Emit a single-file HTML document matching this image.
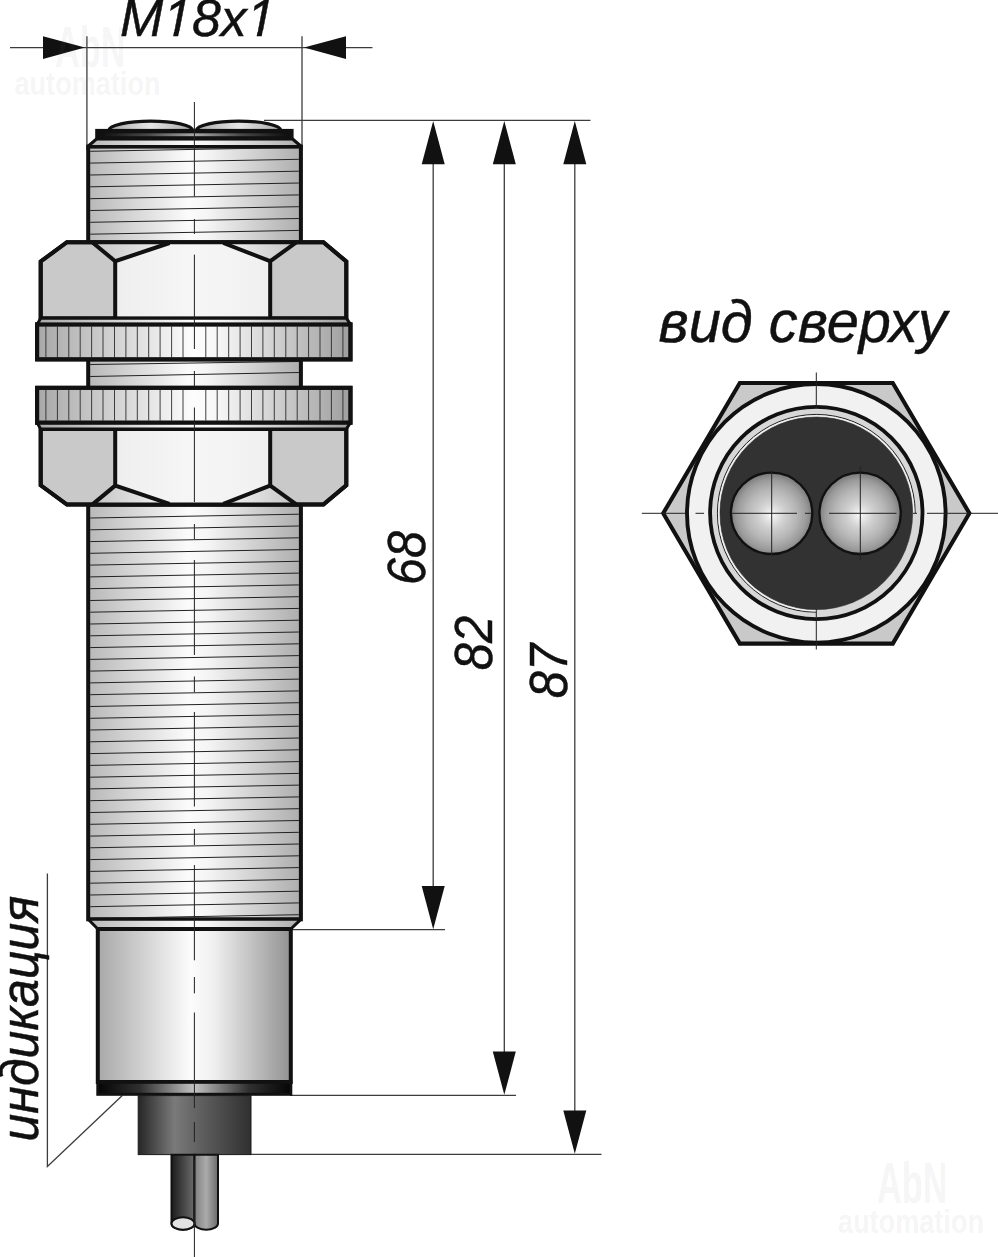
<!DOCTYPE html>
<html lang="ru">
<head>
<meta charset="utf-8">
<title>M18x1</title>
<style>
html,body{margin:0;padding:0;background:#fff;}
body{width:998px;height:1257px;overflow:hidden;position:relative;font-family:"Liberation Sans",sans-serif;}
svg{position:absolute;left:0;top:0;display:block;}
text{font-family:"Liberation Sans",sans-serif;}
.it{font-style:italic;fill:#111;stroke:#111;stroke-width:0.45;}
.wm{font-weight:bold;fill:#7a7a7a;fill-opacity:0.085;}
.thin{stroke:#3c3c3c;stroke-width:1.3;fill:none;}
.cl{stroke:#222;stroke-width:1;fill:none;}
.thk{stroke:#111;stroke-width:4;stroke-linejoin:miter;}
.thr{stroke:#222;stroke-width:1;fill:none;}
.arr{fill:#111;stroke:none;}
</style>
</head>
<body>
<svg width="998" height="1257" viewBox="0 0 998 1257">
<defs>
<linearGradient id="gBody" x1="0" y1="0" x2="1" y2="0">
<stop offset="0" stop-color="#b8b8b8"/><stop offset="0.47" stop-color="#fbfbfb"/><stop offset="0.56" stop-color="#f5f5f5"/><stop offset="1" stop-color="#adadad"/>
</linearGradient>
<linearGradient id="gWash" x1="0" y1="0" x2="1" y2="0">
<stop offset="0" stop-color="#a8a8a8"/><stop offset="0.5" stop-color="#fdfdfd"/><stop offset="0.58" stop-color="#f6f6f6"/><stop offset="1" stop-color="#9e9e9e"/>
</linearGradient>
<linearGradient id="gSmooth" x1="0" y1="0" x2="1" y2="0">
<stop offset="0" stop-color="#a8a8a8"/><stop offset="0.48" stop-color="#fcfcfc"/><stop offset="0.6" stop-color="#f0f0f0"/><stop offset="1" stop-color="#929292"/>
</linearGradient>
<linearGradient id="gRing" x1="0" y1="0" x2="1" y2="0">
<stop offset="0" stop-color="#050505"/><stop offset="0.22" stop-color="#303030"/><stop offset="0.5" stop-color="#c2c2c2"/><stop offset="0.78" stop-color="#303030"/><stop offset="1" stop-color="#050505"/>
</linearGradient>
<linearGradient id="gRingTop" x1="0" y1="0" x2="1" y2="0">
<stop offset="0" stop-color="#111"/><stop offset="0.25" stop-color="#4a4a4a"/><stop offset="0.5" stop-color="#a8a8a8"/><stop offset="0.75" stop-color="#4a4a4a"/><stop offset="1" stop-color="#111"/>
</linearGradient>
<linearGradient id="gGland" x1="0" y1="0" x2="1" y2="0">
<stop offset="0" stop-color="#262626"/><stop offset="0.32" stop-color="#7a7a7a"/><stop offset="0.6" stop-color="#5a5a5a"/><stop offset="1" stop-color="#303030"/>
</linearGradient>
<linearGradient id="gCabL" x1="0" y1="0" x2="1" y2="0">
<stop offset="0" stop-color="#1c1c1c"/><stop offset="1" stop-color="#6c6c6c"/>
</linearGradient>
<linearGradient id="gCabR" x1="0" y1="0" x2="1" y2="0">
<stop offset="0" stop-color="#808080"/><stop offset="0.5" stop-color="#ababab"/><stop offset="1" stop-color="#6a6a6a"/>
</linearGradient>
<linearGradient id="gFace" x1="0" y1="0" x2="1" y2="0">
<stop offset="0" stop-color="#eeeeee"/><stop offset="0.5" stop-color="#f6f6f6"/><stop offset="1" stop-color="#f0f0f0"/>
</linearGradient>
<linearGradient id="gTri" x1="0" y1="0" x2="1" y2="0">
<stop offset="0" stop-color="#c4c4c4"/><stop offset="1" stop-color="#f4f4f4"/>
</linearGradient>
<linearGradient id="gTriR" x1="0" y1="0" x2="1" y2="0">
<stop offset="0" stop-color="#f4f4f4"/><stop offset="1" stop-color="#c4c4c4"/>
</linearGradient>
<radialGradient id="gLens" cx="0.5" cy="0.52" r="0.5">
<stop offset="0" stop-color="#fbfbfb"/><stop offset="0.1" stop-color="#ececec"/><stop offset="0.32" stop-color="#d0d0d0"/><stop offset="0.62" stop-color="#b6b6b6"/><stop offset="0.86" stop-color="#9a9a9a"/><stop offset="1" stop-color="#7e7e7e"/>
</radialGradient>
<linearGradient id="gInner" x1="0" y1="0" x2="1" y2="1">
<stop offset="0" stop-color="#bdbdbd"/><stop offset="0.5" stop-color="#f2f2f2"/><stop offset="1" stop-color="#c8c8c8"/>
</linearGradient>
<linearGradient id="gDome" x1="0" y1="0" x2="1" y2="0">
<stop offset="0" stop-color="#a8a8a8"/><stop offset="0.5" stop-color="#e6e6e6"/><stop offset="1" stop-color="#a8a8a8"/>
</linearGradient>
</defs>
<rect x="0" y="0" width="998" height="1257" fill="#ffffff"/>

<g class="thin">
<path d="M10 47.6H372.5"/>
<path d="M86.9 36.3V150"/>
<path d="M302 36.3V150"/>
<path d="M264 120.4H590.5"/>
<path d="M290 929.6H445"/>
<path d="M290 1095.4H516"/>
<path d="M250 1154.3H601.5"/>
<path d="M433.2 160V890"/>
<path d="M504.3 160V1055"/>
<path d="M574.8 160V1113"/>
<path d="M47.4 873.5V1166.5L122.3 1095.5"/>
</g>
<g class="arr">
<path d="M84.9 47.6L43 36.3V58.9Z"/>
<path d="M304 47.6L346 36.3V58.9Z"/>
<path d="M433.2 121L421.7 164.3H444.7Z"/>
<path d="M504.3 121L492.8 164.3H515.8Z"/>
<path d="M574.8 121L563.3 164.3H586.3Z"/>
<path d="M433.2 929.2L421.7 886.0H444.7Z"/>
<path d="M504.3 1094.8L492.8 1051.6H515.8Z"/>
<path d="M574.8 1153.8L563.3 1110.6H586.3Z"/>
</g>
<text class="it" transform="translate(120 35.9) scale(1.006 1)" font-size="51.5">M18x1</text>
<text class="it" transform="translate(658.5 341.7) scale(0.98 1)" font-size="59">вид сверху</text>
<text class="it" transform="translate(425 585) rotate(-90) scale(0.9 1)" font-size="54">68</text>
<text class="it" transform="translate(491.8 670.2) rotate(-90) scale(0.905 1)" font-size="54">82</text>
<text class="it" transform="translate(566.8 698.2) rotate(-90) scale(0.905 1)" font-size="54">87</text>
<text class="it" transform="translate(38.2 1141.5) rotate(-90) scale(0.945 1)" font-size="53">индикация</text>
<polygon points="163.16,37.96 172.80,37.96 174.13,31.37 163.16,31.37" fill="#fff"/><polygon points="177.83,37.96 190.10,37.96 190.10,31.37 179.16,31.37" fill="#fff"/>
<polygon points="246.67,37.96 256.32,37.96 257.65,31.37 246.67,31.37" fill="#fff"/><polygon points="261.35,37.96 273.61,37.96 273.61,31.37 262.68,31.37" fill="#fff"/>
<rect x="88.2" y="146.6" width="212.7" height="96" fill="url(#gBody)" class="thk"/>
<path class="thr" d="M90.2 151.3L298.9 147.5M90.2 163.1L298.9 159.3M90.2 175.0L298.9 171.2M90.2 186.8L298.9 183.0M90.2 198.7L298.9 194.9M90.2 210.5L298.9 206.7M90.2 222.3L298.9 218.5M90.2 234.2L298.9 230.4"/>
<path d="M87.8 146.5L96.5 139H292.6L301.29999999999995 146.5Z" fill="url(#gBody)" stroke="#111" stroke-width="3" stroke-linejoin="bevel"/>
<path d="M108.8 130.5A41.8 9.4 0 0 1 192.6 130.5Z" fill="url(#gDome)" stroke="#111" stroke-width="3.2" stroke-linejoin="round"/>
<path d="M196.4 130.5A42.2 9.4 0 0 1 280.8 130.5Z" fill="url(#gDome)" stroke="#111" stroke-width="3.2" stroke-linejoin="round"/>
<rect x="95.2" y="128.9" width="198.4" height="11.2" fill="#111"/>
<rect x="103" y="133.3" width="183" height="2.9" fill="url(#gRingTop)"/>
<rect x="88.2" y="357" width="212.7" height="33" fill="url(#gBody)" class="thk"/>
<path class="thr" d="M90.2 364.5L298.9 361.5M90.2 376.5L298.9 372.5"/>
<rect x="88.2" y="504.6" width="212.7" height="414.7" fill="url(#gBody)" class="thk"/>
<path class="thr" d="M90.2 518.0L298.9 514.2M90.2 529.8L298.9 526.0M90.2 541.6L298.9 537.8M90.2 553.3L298.9 549.5M90.2 565.1L298.9 561.3M90.2 576.9L298.9 573.1M90.2 588.7L298.9 584.9M90.2 600.5L298.9 596.7M90.2 612.2L298.9 608.4M90.2 624.0L298.9 620.2M90.2 635.8L298.9 632.0M90.2 647.6L298.9 643.8M90.2 659.4L298.9 655.6M90.2 671.1L298.9 667.3M90.2 682.9L298.9 679.1M90.2 694.7L298.9 690.9M90.2 706.5L298.9 702.7M90.2 718.3L298.9 714.5M90.2 730.0L298.9 726.2M90.2 741.8L298.9 738.0M90.2 753.6L298.9 749.8M90.2 765.4L298.9 761.6M90.2 777.2L298.9 773.4M90.2 788.9L298.9 785.1M90.2 800.7L298.9 796.9M90.2 812.5L298.9 808.7M90.2 824.3L298.9 820.5M90.2 836.1L298.9 832.3M90.2 847.8L298.9 844.0M90.2 859.6L298.9 855.8M90.2 871.4L298.9 867.6M90.2 883.2L298.9 879.4M90.2 895.0L298.9 891.2M90.2 906.7L298.9 902.9M90.2 918.5L298.9 914.7"/>
<path d="M88.2 919.3H300.9L290.8 929H97.8Z" fill="url(#gBody)" stroke="#111" stroke-width="3" stroke-linejoin="bevel"/>
<rect x="97.8" y="929" width="193.0" height="153" fill="url(#gSmooth)" class="thk" stroke-width="3.6"/>
<rect x="97.8" y="1082.3" width="193.0" height="12" fill="url(#gRing)" stroke="#111" stroke-width="3"/>
<rect x="138.2" y="1095.6" width="112.8" height="59" fill="url(#gGland)" stroke="#1a1a1a" stroke-width="1"/>
<path d="M171.5 1154.8V1223.5A11.5 6.3 0 0 0 194.5 1223.5V1154.8Z" fill="url(#gCabL)" stroke="#111" stroke-width="2"/>
<path d="M194.5 1154.8V1223.5A11.7 6.3 0 0 0 218 1223.5V1154.8Z" fill="url(#gCabR)" stroke="#111" stroke-width="2"/>
<ellipse cx="183" cy="1223.5" rx="11.5" ry="6.3" fill="#e2e2e2" stroke="#111" stroke-width="2"/>
<path d="M66.9 242.2H323.4L346.3 261.5V318.4H40.7V261.5Z" fill="#c9c9c9" class="thk"/><path d="M115.2 261.2L169.5 242.2H223.3L270.2 261.2V318.4H115.2Z" fill="url(#gFace)" stroke="none"/><path d="M92.2 242.2L115.2 261.2L169.5 242.2Z" fill="url(#gTri)" stroke="none"/><path d="M296.6 242.2L270.2 261.2L223.3 242.2Z" fill="url(#gTriR)" stroke="none"/><path d="M92.2 242.2L115.2 261.2L169.5 243.0M115.2 261.2V318.4M296.6 242.2L270.2 261.2L223.3 243.0M270.2 261.2V318.4" fill="none" class="thk" stroke-linejoin="round"/><path d="M66.9 242.2H323.4L346.3 261.5V318.4H40.7V261.5Z" fill="none" class="thk"/>
<path d="M66.9 504.6H323.4L346.3 485.3V428.9H40.7V485.3Z" fill="#c9c9c9" class="thk"/><path d="M115.2 485.6L169.5 504.6H223.3L270.2 485.6V428.9H115.2Z" fill="url(#gFace)" stroke="none"/><path d="M92.2 504.6L115.2 485.6L169.5 504.6Z" fill="url(#gTri)" stroke="none"/><path d="M296.6 504.6L270.2 485.6L223.3 504.6Z" fill="url(#gTriR)" stroke="none"/><path d="M92.2 504.6L115.2 485.6L169.5 503.8M115.2 485.6V428.9M296.6 504.6L270.2 485.6L223.3 503.8M270.2 485.6V428.9" fill="none" class="thk" stroke-linejoin="round"/><path d="M66.9 504.6H323.4L346.3 485.3V428.9H40.7V485.3Z" fill="none" class="thk"/>
<rect x="37.1" y="324.4" width="313.4" height="35.0" fill="url(#gWash)" class="thk"/><path d="M45.9 326.4V357.4M57.4 326.4V357.4M68.8 326.4V357.4M80.2 326.4V357.4M91.6 326.4V357.4M103.0 326.4V357.4M114.5 326.4V357.4M125.9 326.4V357.4M137.3 326.4V357.4M148.7 326.4V357.4M160.1 326.4V357.4M171.6 326.4V357.4M183.0 326.4V357.4M205.8 326.4V357.4M217.2 326.4V357.4M228.7 326.4V357.4M240.1 326.4V357.4M251.5 326.4V357.4M262.9 326.4V357.4M274.3 326.4V357.4M285.8 326.4V357.4M297.2 326.4V357.4M308.6 326.4V357.4M320.0 326.4V357.4M331.4 326.4V357.4M342.9 326.4V357.4" stroke="#2a2a2a" stroke-width="0.9" fill="none"/><path d="M40.7 318.2H346.3L350.5 324.4H37.1Z" fill="url(#gWash)" stroke="#111" stroke-width="3" stroke-linejoin="bevel"/><rect x="37.1" y="324.4" width="313.4" height="35.0" fill="none" class="thk"/>
<rect x="37.1" y="387.8" width="313.4" height="34.89999999999998" fill="url(#gWash)" class="thk"/><path d="M45.9 389.8V420.7M57.4 389.8V420.7M68.8 389.8V420.7M80.2 389.8V420.7M91.6 389.8V420.7M103.0 389.8V420.7M114.5 389.8V420.7M125.9 389.8V420.7M137.3 389.8V420.7M148.7 389.8V420.7M160.1 389.8V420.7M171.6 389.8V420.7M183.0 389.8V420.7M205.8 389.8V420.7M217.2 389.8V420.7M228.7 389.8V420.7M240.1 389.8V420.7M251.5 389.8V420.7M262.9 389.8V420.7M274.3 389.8V420.7M285.8 389.8V420.7M297.2 389.8V420.7M308.6 389.8V420.7M320.0 389.8V420.7M331.4 389.8V420.7M342.9 389.8V420.7" stroke="#2a2a2a" stroke-width="0.9" fill="none"/><path d="M37.1 422.7H350.5L346.3 428.9H40.7Z" fill="url(#gWash)" stroke="#111" stroke-width="3" stroke-linejoin="bevel"/><rect x="37.1" y="387.8" width="313.4" height="34.89999999999998" fill="none" class="thk"/>
<path class="cl" d="M194.4 102V196.5M194.4 219V234M194.4 254.6V349M194.4 371V386.5M194.4 407.5V502M194.4 524V539M194.4 560V655M194.4 676.5V692.3M194.4 712V806.5M194.4 829V845M194.4 865V960.3M194.4 977V993.4M194.4 1012.5V1108M194.4 1122V1142M194.4 1160V1257"/>
<polygon points="969.4,513.3 892.8,643.6 739.8,643.6 663.2,513.3 739.8,383.0 892.8,383.0" fill="#c9c9c9" stroke="#111" stroke-width="4.1" stroke-linejoin="miter"/>
<circle cx="816.3" cy="513.3" r="129.3" fill="#f1f1f1" stroke="#111" stroke-width="3.9"/>
<circle cx="816.3" cy="513.0" r="106.2" fill="#d7d7d7" stroke="#111" stroke-width="3.8"/>
<circle cx="816.3" cy="513.3" r="96.3" fill="#323232" stroke="#2a2a2a" stroke-width="0.6"/>
<path d="M915.1999999999999 513.3A98.9 98.9 0 1 0 816.3 612.1999999999999" fill="none" stroke="#222" stroke-width="1"/>
<path d="M913.9 513.3A97.6 97.6 0 1 0 816.3 610.9" fill="none" stroke="#f4f4f4" stroke-width="1.1"/>
<circle cx="771.6" cy="513.3" r="40.7" fill="url(#gLens)" stroke="#111" stroke-width="2.4"/>
<circle cx="860.1" cy="513.3" r="40.7" fill="url(#gLens)" stroke="#111" stroke-width="2.4"/>
<path class="cl" d="M641.8 513.3H685M695.5 513.3H704M731.5 513.3H797M805 513.3H812M829 513.3H896.5M913 513.3H917M927 513.3H998"/>
<path class="cl" d="M816.3 372.5V408M816.3 609V649.5"/>
<path class="cl" d="M771.7 472V555M860.3 466V560"/>
<g class="wm">
<text x="90.3" y="67.3" font-size="58" text-anchor="middle" textLength="70.5" lengthAdjust="spacingAndGlyphs">AbN</text>
<text x="87.5" y="95.2" font-size="33" text-anchor="middle" textLength="146" lengthAdjust="spacingAndGlyphs">automation</text>
<text x="912.2" y="1203.2" font-size="58" text-anchor="middle" textLength="70.5" lengthAdjust="spacingAndGlyphs">AbN</text>
<text x="911" y="1232.6" font-size="33" text-anchor="middle" textLength="146" lengthAdjust="spacingAndGlyphs">automation</text>
</g>
</svg>
</body>
</html>
